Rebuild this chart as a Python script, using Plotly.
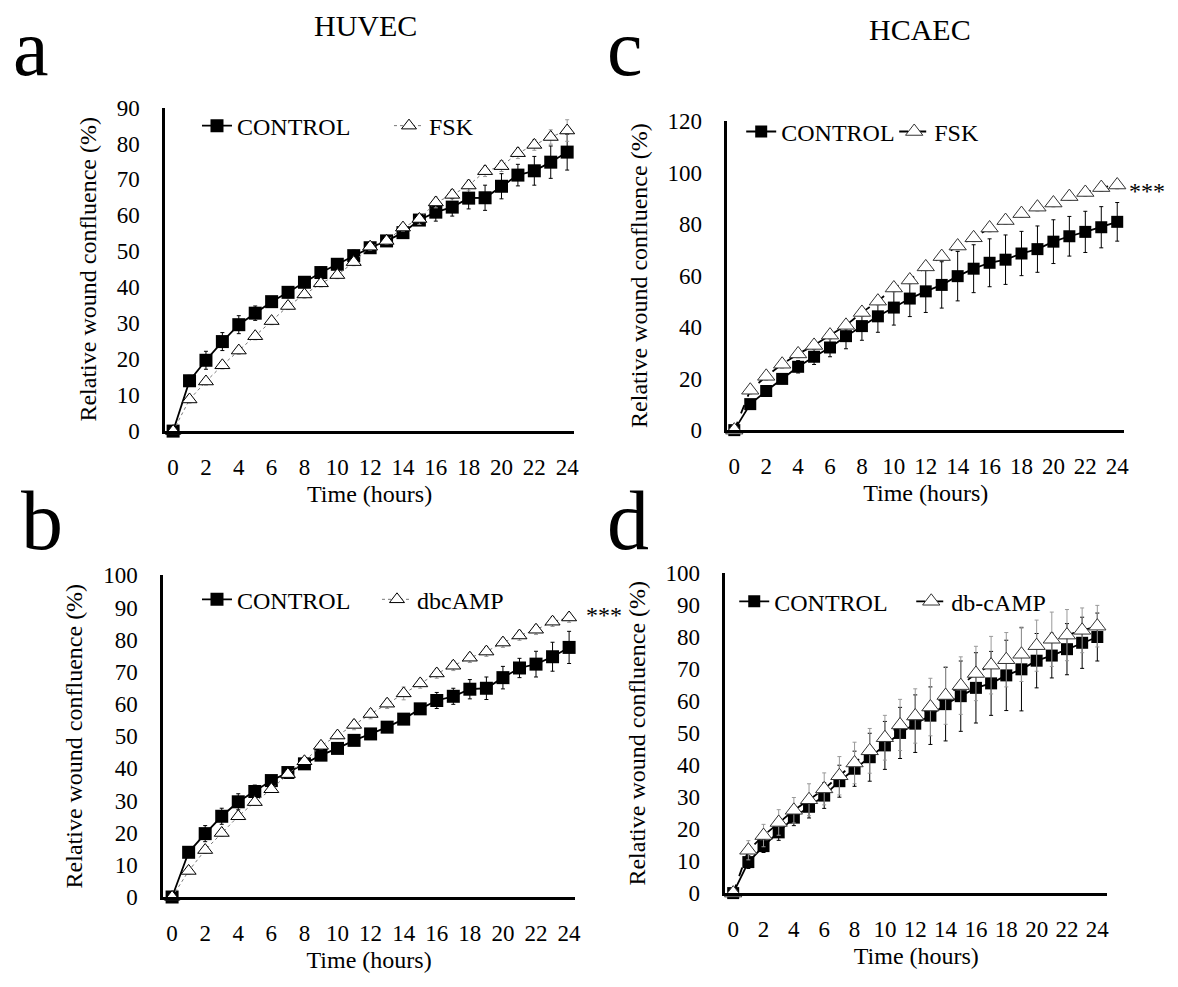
import plotly.graph_objects as go

hours = list(range(25))
x_ticks = list(range(0, 25, 2))

# Panel a: HUVEC, CONTROL vs FSK
a_control = [0, 14.0, 19.7, 24.9, 29.6, 32.8, 36.0, 38.6, 41.4, 44.1, 46.4, 48.8, 51.0,
             52.9, 55.2, 58.7, 60.9, 62.3, 64.8, 64.9, 68.1, 71.2, 72.4, 74.8, 77.6]
a_control_err = [0, 1.5, 2.5, 2.5, 2.5, 2, 1, 1.5, 1.5, 1.5, 1.5, 1.5, 1.5, 1, 1, 1.5,
                 2.5, 2.5, 3, 3.5, 3.5, 3, 4, 4.5, 5]
a_fsk = [0, 8.8, 13.8, 18.3, 22.4, 26.4, 30.6, 34.8, 38.0, 41.1, 43.4, 47.0, 51.3,
         52.9, 56.6, 59.0, 63.6, 65.7, 68.3, 72.3, 73.7, 77.3, 79.6, 81.8, 83.6]
a_fsk_err = [0, 1, 1, 1, 1, 1, 1, 1, 1, 1, 1, 1, 1, 1, 1, 1.5, 1.5, 1.5, 1.5, 1.5,
             1.5, 1.5, 1.5, 2, 3]

# Panel b: HUVEC, CONTROL vs dbcAMP
b_control = [0, 13.9, 19.7, 25.1, 29.6, 32.8, 36.2, 38.7, 41.4, 44.1, 46.2, 48.7, 50.7,
             52.8, 55.3, 58.5, 61.1, 62.4, 64.6, 64.9, 68.2, 71.2, 72.4, 74.7, 77.6]
b_control_err = [0, 1.5, 2.5, 2.5, 2.5, 2, 1, 1.5, 1.5, 1.5, 1.5, 1.5, 1.5, 1, 1, 1.5,
                 2.5, 2.5, 3, 3.5, 3.5, 3, 4, 4.5, 5]
b_dbcamp = [0, 8.1, 14.6, 19.9, 25.1, 29.5, 33.5, 38.2, 42.2, 47.0, 50.2, 53.5, 56.9,
            60.1, 63.3, 66.4, 69.5, 71.9, 74.4, 76.3, 79.1, 81.3, 83.1, 85.6, 86.9]
b_dbcamp_err = [0, 1, 1, 1, 1, 1, 1, 1, 1, 1, 1, 1.5, 1.5, 1.5, 2, 1.5, 1.5, 1.5, 1.5,
                1.5, 1.5, 1.5, 1.5, 1.5, 1.5]

# Panel c: HCAEC, CONTROL vs FSK
c_control = [0, 10.1, 15.2, 19.9, 24.6, 28.5, 32.1, 36.5, 40.4, 44.2, 47.6, 51.1, 53.9,
             56.4, 59.8, 62.7, 65.0, 66.2, 68.6, 70.3, 73.2, 75.3, 77.0, 78.8, 80.9]
c_control_err = [0, 1, 2, 1.8, 2.4, 3, 3.6, 4.9, 5.5, 6.2, 6.8, 7, 8.2, 9, 9.6, 9.3,
                 9.3, 9.6, 8.6, 9, 8.5, 7.7, 8, 8, 7.5]
c_fsk = [0, 15.5, 20.9, 25.6, 29.6, 32.9, 36.9, 40.7, 45.7, 50.1, 55.2, 58.3, 63.4,
         67.4, 71.5, 74.7, 78.5, 81.4, 84.1, 86.6, 88.2, 90.7, 92.3, 94.2, 95.2]
c_fsk_err = [0, 1.5, 1.5, 1.5, 1.5, 1.5, 1.5, 1.5, 1.5, 1.5, 1.5, 1.5, 1.5, 1.5, 1.5,
             1.5, 1.5, 1.5, 1.5, 1.5, 1.5, 1.5, 1.5, 1.5, 1.5]

# Panel d: HCAEC, CONTROL vs db-cAMP
d_control = [0, 9.7, 14.7, 19.0, 23.6, 27.0, 30.5, 35.0, 38.9, 42.5, 46.2, 50.1, 53.0,
             55.5, 59.1, 61.6, 64.2, 65.6, 68.1, 70.0, 72.7, 74.3, 76.3, 78.3, 80.1]
d_control_err = [0, 2, 2, 2.5, 2.5, 3.5, 4, 5, 5.5, 7.5, 7.5, 8, 9, 9, 11.5, 11, 11,
                 10, 11, 13, 8.5, 7, 8, 8, 7.5]
d_dbcamp = [0, 13.4, 18.0, 22.1, 25.9, 29.2, 32.6, 36.7, 40.7, 44.5, 48.6, 52.6, 55.4,
            58.2, 61.8, 64.9, 68.7, 71.3, 73.0, 74.7, 77.4, 79.4, 80.7, 82.2, 83.5]
d_dbcamp_err = [0, 3, 3.5, 4, 4, 5, 5, 6, 6.5, 7, 7, 8, 8.5, 9, 9, 9, 8.5, 9, 8.5,
                8.5, 8, 8.5, 8, 7, 6.5]

W, H = 1178, 987
FONT = "Liberation Serif, Times New Roman, serif"


def px_x(p):
    return p / W


def px_y(p):
    return 1 - p / H


panels = [
    ("a", "x", "y", "legend", a_control, a_control_err, a_fsk, a_fsk_err, "FSK", "dot"),
    ("b", "x2", "y2", "legend2", b_control, b_control_err, b_dbcamp, b_dbcamp_err, "dbcAMP", "dot"),
    ("c", "x3", "y3", "legend3", c_control, c_control_err, c_fsk, c_fsk_err, "FSK", "dash"),
    ("d", "x4", "y4", "legend4", d_control, d_control_err, d_dbcamp, d_dbcamp_err, "db-cAMP", "dash"),
]

fig = go.Figure()
for key, xa, ya, lg, ctrl, ctrl_err, trt, trt_err, trt_name, style in panels:
    big = style == "dash"
    fig.add_trace(go.Scatter(
        x=hours, y=ctrl, name="CONTROL", mode="lines+markers",
        xaxis=xa, yaxis=ya, legend=lg, cliponaxis=False,
        line=dict(color="black", width=1.8),
        marker=dict(symbol="square", size=12 if big else 13, color="black",
                    line=dict(color="black", width=0)),
        error_y=dict(type="data", array=ctrl_err, visible=True,
                     color="black", thickness=1, width=2),
    ))
    fig.add_trace(go.Scatter(
        x=hours, y=trt, name=trt_name, mode="lines+markers",
        xaxis=xa, yaxis=ya, legend=lg, cliponaxis=False,
        line=dict(color="black" if big else "#777777", width=1.8 if big else 1,
                  dash="dash" if big else "dot"),
        marker=dict(symbol="triangle-up", size=15 if big else 13, color="white",
                    line=dict(color="#333333" if big else "black", width=1)),
        error_y=dict(type="data", array=trt_err, visible=True,
                     color="#999999", thickness=1, width=2),
    ))

axis_common = dict(showline=True, linecolor="black", linewidth=2.5, showgrid=False,
                   zeroline=False, ticks="", mirror=False,
                   tickfont=dict(family=FONT, size=23, color="black"))

geo = {
    "a": (166, 577, 98, 430, -0.485, 24.42, 90, 10),
    "b": (164, 578, 578, 908, -0.54, 24.36, 100, 10),
    "c": (731, 1130, 112, 429, -0.44, 24.44, 120, 20),
    "d": (729, 1113, 576, 904, -0.52, 24.66, 100, 10),
}
axnames = {"a": ("xaxis", "yaxis", "y", "x"), "b": ("xaxis2", "yaxis2", "y2", "x2"),
           "c": ("xaxis3", "yaxis3", "y3", "x3"), "d": ("xaxis4", "yaxis4", "y4", "x4")}

layout_axes = {}
for k, (l, r, t, b, xmin, xmax, ymax, dt) in geo.items():
    xn, yn, yref, xref = axnames[k]
    layout_axes[xn] = dict(axis_common, domain=[px_x(l), px_x(r)], range=[xmin, xmax],
                           anchor=yref, tickvals=x_ticks, ticklabelstandoff=14,
                           title=dict(text="Time (hours)", standoff=6,
                                      font=dict(family=FONT, size=24, color="black")))
    layout_axes[yn] = dict(axis_common, domain=[px_y(b), px_y(t)], range=[0, ymax],
                           anchor=xref, tickvals=list(range(0, ymax + 1, dt)),
                           ticklabelstandoff=18,
                           title=dict(text="Relative wound confluence (%)", standoff=14,
                                      font=dict(family=FONT, size=24, color="black")))

legend_common = dict(orientation="h", xref="paper", yref="paper", xanchor="left",
                     yanchor="middle", bgcolor="rgba(0,0,0,0)", itemwidth=30,
                     entrywidthmode="pixels",
                     font=dict(family=FONT, size=24, color="black"))

fig.update_layout(
    width=W, height=H, margin=dict(l=0, r=0, t=0, b=0, pad=0),
    paper_bgcolor="white", plot_bgcolor="white", showlegend=True,
    legend=dict(legend_common, x=px_x(198), y=px_y(117), entrywidth=147),
    legend2=dict(legend_common, x=px_x(198), y=px_y(603), entrywidth=135),
    legend3=dict(legend_common, x=px_x(745), y=px_y(123), entrywidth=108),
    legend4=dict(legend_common, x=px_x(738), y=px_y(605), entrywidth=132),
    **layout_axes,
)

annos = [
    ("a", 31, 37, 80), ("b", 42, 522, 84), ("c", 628, 37, 80), ("d", 631, 522, 84),
    ("HUVEC", 367, 14, 30), ("HCAEC", 925, 18, 30),
    ("***", 607, 619, 24), ("***", 1153, 184, 24),
]
for text, x, y, size in annos:
    fig.add_annotation(text=text, x=px_x(x), y=px_y(y), xref="paper", yref="paper",
                       xanchor="center", yanchor="middle", showarrow=False,
                       font=dict(family=FONT, size=size, color="black"))

fig.write_html("out.html")
